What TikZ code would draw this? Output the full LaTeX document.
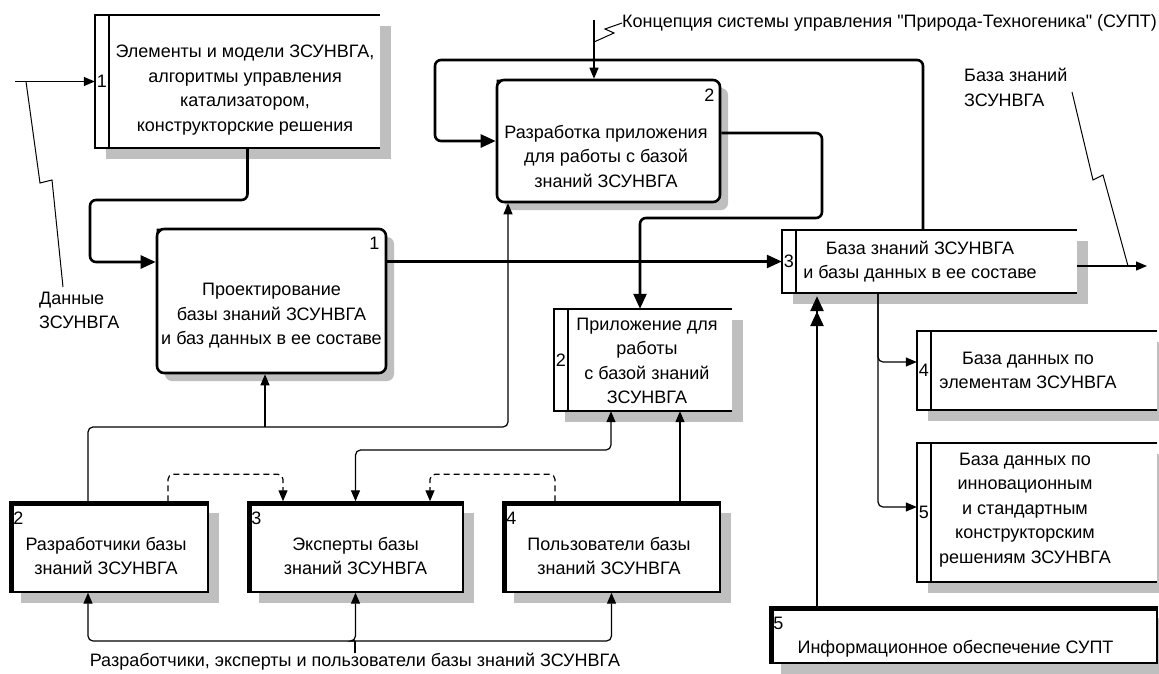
\documentclass[tikz,border=0pt]{standalone}
\usepackage{fontspec}
\setmainfont{Liberation Sans}[Ligatures=TeXOff]
\usetikzlibrary{arrows.meta,positioning,shadows,calc}
\tikzset{
	every node/.style={font=\fontsize{18}{24.5}\selectfont},
	txt/.style={align=center},
	process/.style={
		rectangle, rounded corners=7pt, line width=2.6pt, draw=black, fill=white, inner sep=0pt,
		drop shadow={shadow xshift=8pt, shadow yshift=-8pt, fill=black!25, opacity=1}
	},
	%
	store/.style={
		rectangle, fill=white, inner sep=0pt,
		drop shadow={shadow xshift=11pt, shadow yshift=-11pt, fill=black!25, opacity=1}
	},
	%
	entity/.style={
		rectangle, draw=black, line width=1.4pt, fill=white, inner sep=0pt,
		drop shadow={shadow xshift=11pt, shadow yshift=-11pt, fill=black!25, opacity=1}
	},
	%
	storeline/.style={line width=2.4pt},
	flow/.style={line width=2.6pt, rounded corners=6pt, -{Triangle[length=15pt,width=13pt]}},
	thinflow/.style={line width=1.2pt, rounded corners=5pt, -{Triangle[length=11pt,width=9pt]}},
	dashflow/.style={thinflow, dash pattern=on 6pt off 4pt},
	squiggle/.style={line width=1pt}
}

\begin{document}
\begin{tikzpicture}[x=1pt, y=-1pt]
\fill[white] (0,0) rectangle (1159,673);
\useasboundingbox (0,0) rectangle (1159,673);

% data stores
\node (s1) [store, minimum width=285pt, minimum height=133pt,
	label={[name=s1-text, txt, xshift=7.5pt, yshift=-8.5pt]center:{Элементы и модели ЗСУНВГА,\\ алгоритмы управления\\ катализатором,\\ конструкторские решения}}] at (237.5,81.5) {};
\node (s2) [store, minimum width=178pt, minimum height=102pt,
	label={[name=s2-text, txt, xshift=4pt, yshift=-1pt]center:{Приложение для\\ работы\\ с базой знаний\\ ЗСУНВГА}}] at (643,360) {};
\node (s3) [store, minimum width=295pt, minimum height=63pt,
	label={[name=s3-text, txt, xshift=-9.5pt]center:{База знаний ЗСУНВГА\\ и базы данных в ее составе}}] at (929.5,261.5) {};
\node (s4) [store, minimum width=240pt, minimum height=79pt,
	label={[name=s4-text, txt, xshift=-9pt]center:{База данных по\\ элементам ЗСУНВГА}}] at (1037,370.5) {};
\node (s5) [store, minimum width=240pt, minimum height=139pt,
	label={[name=s5-text, txt, xshift=-12pt, yshift=2.5pt]center:{База данных по\\ инновационным\\ и стандартным\\ конструкторским\\ решениям ЗСУНВГА}}] at (1037,512.5) {};
\foreach \s/\n in {s1/1,s2/2,s3/3,s4/4,s5/5}{
	\draw[storeline] (\s.north east) -- (\s.north west) -- (\s.south west) -- (\s.south east);
	\draw[storeline] ([xshift=14pt]\s.north west) -- ([xshift=14pt]\s.south west);
	\node (\s-num) at ([xshift=7pt]\s.west) {\n};
}

% processes
\node (p1) [process, minimum width=229pt, minimum height=144pt,
	label={[name=p1-text, txt, yshift=-15pt]center:{Проектирование\\ базы знаний ЗСУНВГА\\ и баз данных в ее составе}}] at (271.5,301) {};
\node (p2) [process, minimum width=223pt, minimum height=122pt,
	label={[name=p2-text, txt, xshift=-2.5pt, yshift=-15pt]center:{Разработка приложения\\ для работы с базой\\ знаний ЗСУНВГА}}] at (608.5,141) {};
\node (p1-num) at ([shift={(-13pt,-16pt)}]p1.north east) {1};
\node (p2-num) at ([shift={(-12pt,-17pt)}]p2.north east) {2};
\foreach \p in {p1,p2}{
	\fill ([shift={(1pt,-1pt)}]\p.north west) -- ++(7pt,0) -- ++(-7pt,-7pt) -- cycle;
}

% external entities
\node (e2) [entity, minimum width=198pt, minimum height=90pt,
	label={[name=e2-text, txt, xshift=-3pt, yshift=-9pt]center:{Разработчики базы\\ знаний ЗСУНВГА}}] at (109,547) {};
\node (e3) [entity, minimum width=215pt, minimum height=90pt,
	label={[name=e3-text, txt, yshift=-9pt]center:{Эксперты базы\\ знаний ЗСУНВГА}}] at (355.5,547) {};
\node (e4) [entity, minimum width=217pt, minimum height=90pt,
	label={[name=e4-text, txt, xshift=-2.5pt, yshift=-9pt]center:{Пользователи базы\\ знаний ЗСУНВГА}}] at (611.5,547) {};
\node (e5) [entity, minimum width=387pt, minimum height=56pt,
	label={[name=e5-text, txt, xshift=-8pt, yshift=-14pt]center:{Информационное обеспечение СУПТ}}] at (963.5,635) {};
\foreach \e/\n in {e2/2,e3/3,e4/4,e5/5}{
	\draw[line width=4.4pt] ([xshift=2.2pt]\e.south west) -- ([shift={(2.2pt,-2.2pt)}]\e.north west) -- ([yshift=-2.2pt]\e.north east);
	\node (\e-num) at ([shift={(9pt,-17pt)}]\e.north west) {\n};
}

% free labels
\node (concept) [anchor=west, inner sep=0pt] at (622,23) {Концепция системы управления "Природа-Техногеника" (СУПТ)};
\node (data) [anchor=west, align=left, inner sep=0pt] at (39,310.5) {Данные\\ ЗСУНВГА};
\node (kb) [anchor=west, align=left, inner sep=0pt] at (964,87.5) {База знаний\\ ЗСУНВГА};
\node (users) [inner sep=0pt] at (355,662) {Разработчики, эксперты и пользователи базы знаний ЗСУНВГА};

\coordinate (din) at (15,81.5);
\coordinate (cin) at (594,20);
\coordinate (kbout) at (1147,266);
\coordinate (ub) at (355,641);
\coordinate (up5) at ([xshift=-112.5pt]s3.south);

% thick flows
\draw[flow] ([xshift=10pt]s1.south) |- (90,200) |- ([yshift=39pt]p1.west);
\draw[flow] (p1.east |- s3.west) -- (s3.west);
\draw[flow] ([xshift=-6.5pt]s3.north) |- (435,60) |- (p2.west);
\draw[flow] ([yshift=8pt]p2.east) -| (822,218) -| ([xshift=-3pt]s2.north);
\draw[line width=2.6pt, -{Triangle[length=15pt,width=13pt] Triangle[length=15pt,width=13pt,sep=3pt]}] (e5.north -| up5) -- (up5);

% thin flows
\draw[thinflow] (din) -- (s1.west);
\draw[thinflow] (cin) -- (cin |- p2.north);
\draw[thinflow] ([yshift=-4.5pt]s3.east) -- (kbout);
\draw[thinflow] ([xshift=-51.5pt]s3.south) |- ([yshift=8.5pt]s4.west);
\draw[thinflow] ([xshift=-51.5pt]s3.south) |- ([yshift=5.5pt]s5.west);
\draw[thinflow] ([xshift=-21pt]e2.north) |- (508,427) -- ([xshift=-100.5pt]p2.south);
\draw[thinflow] (265,427) -- ([xshift=-6.5pt]p1.south);
\draw[thinflow, {Triangle[length=11pt,width=9pt]}-{Triangle[length=11pt,width=9pt]}] (e3.north) |- (611,450) -- ([xshift=-32pt]s2.south);
\draw[thinflow] ([xshift=68.5pt]e4.north) -- ([xshift=37pt]s2.south);
\draw[dashflow] ([xshift=59pt]e2.north) -- ++(0,-27) -| ([xshift=-72.5pt]e3.north);
\draw[dashflow] ([xshift=-56.5pt]e4.north) -- ++(0,-27) -| ([xshift=74.5pt]e3.north);
\draw[thinflow, -] (users.north) -- (ub);
\draw[thinflow] (ub) -| ([xshift=-21pt]e2.south);
\draw[thinflow] (ub) -- (ub -| e3.south) -- (e3.south);
\draw[thinflow] (ub) -| (e4.south);

% squiggles
\draw[squiggle] (26,81.5) -- (40,183) -- (52,180) -- (63,287);
\draw[squiggle] (concept.west) -- (605,29) -- (614,33) -- (594,42);
\draw[squiggle] (1072,92) -- (1093,180) -- (1103,175) -- (1128,266);
\end{tikzpicture}
\end{document}
